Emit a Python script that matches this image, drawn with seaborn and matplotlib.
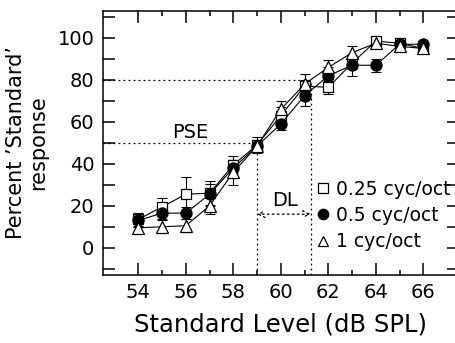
import numpy as np
import pandas as pd
import matplotlib
matplotlib.use("Agg")
import matplotlib.pyplot as plt
from matplotlib.lines import Line2D
import seaborn as sns

sns.set_theme(style="ticks")
plt.rcParams['font.family'] = ['DejaVu Sans']
plt.rcParams['text.color'] = 'black'
plt.rcParams['axes.labelcolor'] = 'black'

levels = [54, 55, 56, 57, 58, 59, 60, 61, 62, 63, 64, 65, 66]
sq_vals = [13.5, 19.5, 25.5, 26, 39.5, 49, 63, 77, 76.5, 88, 98.5, 97.5, 95]
sq_err = [3, 4, 8, 6, 4, 4, 4, 3, 3, 3, 1.5, 1.5, 1.5]
ci_vals = [13, 16.5, 16.5, 25.5, 38, 48.5, 59, 72.5, 82, 87, 87, 97, 97]
ci_err = [3, 3, 3, 5, 4, 3, 3, 5, 4, 5, 3, 2, 1.5]
tr_vals = [9.5, 10, 10.5, 20, 36, 48.5, 66, 78, 86, 93, 97.5, 96, 95]
tr_err = [2.5, 3, 3, 4, 6, 3, 4, 5, 3.5, 3, 1.5, 1.5, 1.5]
labels = ["0.25 cyc/oct", "0.5 cyc/oct", "1 cyc/oct"]

pse_level = 59.0
dl_level = 61.25

fig = plt.figure(figsize=(4.55, 3.43), dpi=100)
ax = fig.add_axes([102.7 / 455, 68 / 343, (459 - 102.7) / 455, (275 - 10.7) / 343])

series = [
    (sq_vals, sq_err, 's', 'white', 7.2),
    (ci_vals, ci_err, 'o', 'black', 8.0),
    (tr_vals, tr_err, '^', 'white', 8.0),
]
for (vals, errs, mk, fc, ms), lab in zip(series, labels):
    df = pd.DataFrame({"level": levels, "pct": vals})
    ax.errorbar(levels, vals, yerr=errs, fmt='none', ecolor='black',
                elinewidth=0.8, capsize=3.5, capthick=0.8, zorder=2)
    sns.lineplot(data=df, x="level", y="pct", ax=ax, color='black', lw=0.8,
                 marker=mk, markersize=ms, markerfacecolor=fc,
                 markeredgecolor='black', markeredgewidth=0.9, zorder=3,
                 legend=False)

# reference dotted lines
dot = dict(color='black', lw=0.9, ls=(0, (1.5, 2.5)), zorder=1)
ax.plot([52.5, pse_level], [50, 50], **dot)
ax.plot([pse_level, pse_level], [-13, 50], **dot)
ax.plot([52.5, dl_level], [80, 80], **dot)
ax.plot([dl_level, dl_level], [-13, 80], **dot)
ax.annotate('', xy=(pse_level, 16), xytext=(dl_level, 16),
            arrowprops=dict(arrowstyle='<->', color='black', lw=0.9,
                            ls=(0, (1.5, 2.5)), shrinkA=0, shrinkB=0))
ax.text(56.2, 55.0, "PSE", ha='center', va='center', fontsize=14)
ax.text(60.17, 22.5, "DL", ha='center', va='center', fontsize=14)

ax.set_xlim(52.5, 67.5)
ax.set_ylim(-13, 113)
ax.set_xticks(list(range(54, 67, 2)))
ax.set_xticks(list(range(55, 66, 2)), minor=True)
ax.set_yticks([0, 20, 40, 60, 80, 100])
ax.set_yticks([-10, 10, 30, 50, 70, 90, 110], minor=True)
ax.tick_params(which='both', direction='in', top=True, right=True,
               width=1.1, labelsize=14, colors='black')
ax.tick_params(which='major', length=8.6, pad=6)
ax.tick_params(axis='x', which='minor', length=3.6)
ax.tick_params(axis='y', which='minor', length=8.6)
for s in ax.spines.values():
    s.set_linewidth(1.1)
    s.set_color('black')

ax.set_xlabel("Standard Level (dB SPL)", fontsize=17.5, labelpad=7)
ax.set_ylabel("Percent \u2019Standard\u2019\nresponse", fontsize=15, labelpad=7,
              linespacing=1.1)

handles = [
    Line2D([], [], ls='none', marker='s', ms=6.5, mfc='white', mec='black', mew=0.9),
    Line2D([], [], ls='none', marker='o', ms=7.5, mfc='black', mec='black', mew=0.9),
    Line2D([], [], ls='none', marker='^', ms=7, mfc='white', mec='black', mew=0.9),
]
ax.legend(handles, labels, loc='upper left', bbox_to_anchor=(0.60, 0.36),
          frameon=False, fontsize=13.5, handlelength=0.7, handletextpad=0.35,
          labelspacing=0.38, borderpad=0, borderaxespad=0)

fig.savefig("out.png", dpi=100)
